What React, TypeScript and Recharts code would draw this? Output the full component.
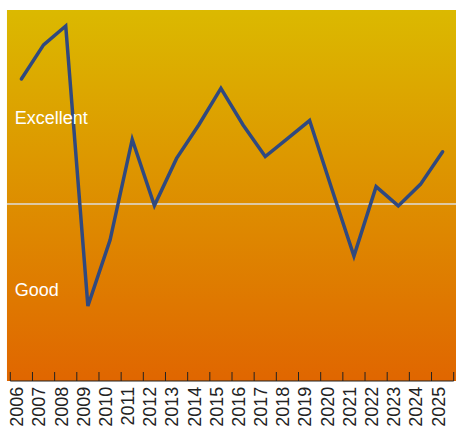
import React from 'react';
import { ComposedChart, Line, XAxis, YAxis, ReferenceArea, ReferenceLine, ReferenceDot } from 'recharts';

const years = [2006, 2007, 2008, 2009, 2010, 2011, 2012, 2013, 2014, 2015, 2016, 2017, 2018, 2019, 2020, 2021, 2022, 2023, 2024, 2025];
const scores = [81.4, 90.6, 95.7, 20.2, 38.0, 65.1, 47.3, 60.0, 69.0, 78.9, 69.0, 60.5, 65.3, 70.2, 51.8, 33.7, 52.4, 47.2, 53.0, 61.8];
const threshold = 47.7;
const zoneLabels = [
  { text: 'Excellent', value: 69.3 },
  { text: 'Good', value: 22.9 },
];

const data = years.map((year, i) => ({ year, score: scores[i] }));
const boundaries = [...years.map((y) => y - 0.5), years[years.length - 1] + 0.5];
const xMin = boundaries[0];
const xMax = boundaries[boundaries.length - 1];

const FONT = "'Liberation Sans', Arial, Helvetica, sans-serif";

const YearTick = (props: any) => {
  const { x, y, payload } = props;
  const year = payload.value + 0.5;
  const showLabel = years.includes(year);
  return (
    <g>
      <line x1={x} x2={x} y1={y - 9} y2={y} stroke="#222" strokeWidth={1} />
      {showLabel && (
        <text
          x={x + 13}
          y={y + 5.7}
          transform={`rotate(-90, ${x + 13}, ${y + 5.7})`}
          textAnchor="end"
          fontSize={18}
          fill="#222"
          fontFamily={FONT}
        >
          {year}
        </text>
      )}
    </g>
  );
};

const ZoneLabel = (text: string) => (props: any) => {
  const { cx, cy } = props;
  return (
    <text x={cx + 4.4} y={cy} fill="#ffffff" fontSize={18} fontFamily={FONT}>
      {text}
    </text>
  );
};

export default function App() {
  return (
    <div style={{ position: 'absolute', left: 0, top: 0, width: 456, height: 430 }}>
      <ComposedChart
        width={456}
        height={430}
        data={data}
        margin={{ top: 10, right: 2.3, bottom: 0, left: 10.3 }}
        style={{ fontFamily: FONT }}
      >
        <defs>
          <linearGradient id="bgGrad" x1="0" y1="0" x2="0" y2="1">
            <stop offset="0%" stopColor="#dbb900" />
            <stop offset="100%" stopColor="#e06600" />
          </linearGradient>
        </defs>
        <XAxis
          dataKey="year"
          type="number"
          domain={[xMin, xMax]}
          ticks={boundaries}
          interval={0}
          height={49}
          tickSize={0}
          tickMargin={0}
          tickLine={false}
          axisLine={{ stroke: '#222', strokeWidth: 1 }}
          tick={<YearTick />}
          allowDataOverflow
        />
        <YAxis hide domain={[0, 100]} />
        <ReferenceArea
          x1={xMin - 0.15}
          x2={xMax + 0.12}
          y1={0}
          y2={100}
          fill="url(#bgGrad)"
          fillOpacity={1}
          stroke="none"
          ifOverflow="visible"
        />
        <ReferenceLine
          segment={[
            { x: xMin - 0.15, y: threshold },
            { x: xMax + 0.12, y: threshold },
          ]}
          stroke="#dddddd"
          strokeWidth={1.5}
          ifOverflow="visible"
        />
        {zoneLabels.map((z) => (
          <ReferenceDot
            key={z.text}
            x={xMin}
            y={z.value}
            r={0}
            ifOverflow="visible"
            shape={ZoneLabel(z.text)}
          />
        ))}
        <Line
          type="linear"
          dataKey="score"
          stroke="#30497f"
          strokeWidth={3.5}
          dot={false}
          activeDot={false}
          strokeLinecap="round"
          isAnimationActive={false}
        />
      </ComposedChart>
    </div>
  );
}
